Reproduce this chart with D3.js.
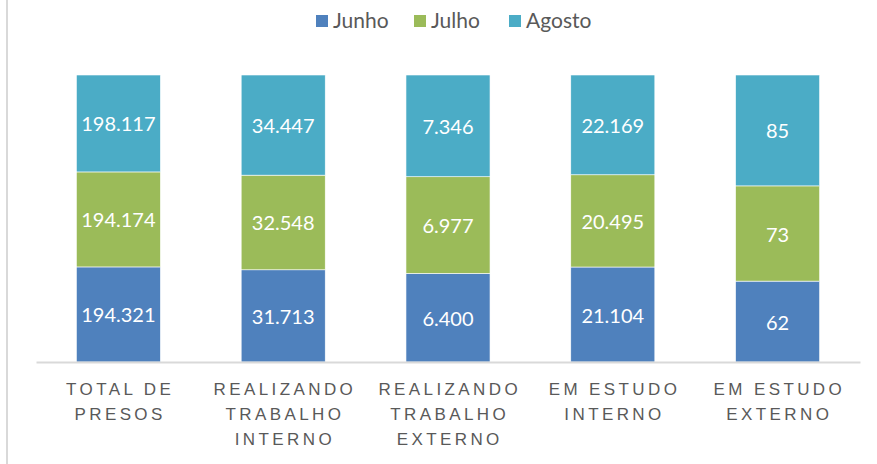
<!DOCTYPE html>
<html>
<head>
<meta charset="utf-8">
<script src="https://cdn.jsdelivr.net/npm/d3@7"></script>
<style>
  body { margin: 0; background: #fff; }
  svg { display: block; font-family: Lato, "Open Sans", sans-serif; }
</style>
</head>
<body>
<svg id="chart" width="877" height="464"></svg>
<script>
'use strict';
// Chart data
const categories = ['TOTAL DE\nPRESOS', 'REALIZANDO\nTRABALHO\nINTERNO', 'REALIZANDO\nTRABALHO\nEXTERNO', 'EM ESTUDO\nINTERNO', 'EM ESTUDO\nEXTERNO'];
const seriesNames = ['Junho', 'Julho', 'Agosto'];
const junho = [194321, 31713, 6400, 21104, 62];
const julho = [194174, 32548, 6977, 20495, 73];
const agosto = [198117, 34447, 7346, 22169, 85];
const colors = ['#4F81BD', '#9BBB59', '#4BACC6'];

const rows = categories.map((c, i) => ({
    cat: c,
    Junho: junho[i],
    Julho: julho[i],
    Agosto: agosto[i]
}));

const svg = d3.select('#chart');
const plot = { left: 36, right: 860, top: 75, bottom: 362 };

const x = d3.scaleBand()
    .domain(categories)
    .range([plot.left, plot.right])
    .paddingInner(0.49)
    .paddingOuter(0.245);

const y = d3.scaleLinear().domain([0, 1]).range([plot.bottom, plot.top]);
const color = d3.scaleOrdinal().domain(seriesNames).range(colors);

const stack = d3.stack().keys(seriesNames).offset(d3.stackOffsetExpand);
const stacked = stack(rows);

const fmt = d3.formatLocale({ decimal: ',', thousands: '.', grouping: [3], currency: ['R$', ''] }).format(',d');

// left border of the chart frame
svg.append('line')
    .attr('x1', 7).attr('x2', 7)
    .attr('y1', 0).attr('y2', 464)
    .attr('stroke', '#d9d9d9')
    .attr('stroke-width', 2);

const groups = svg.append('g').selectAll('g')
    .data(stacked)
    .enter()
    .append('g')
    .attr('fill', d => color(d.key));

groups.selectAll('rect')
    .data(d => d)
    .enter()
    .append('rect')
    .attr('x', d => x(d.data.cat))
    .attr('y', d => y(d[1]))
    .attr('width', x.bandwidth())
    .attr('height', d => y(d[0]) - y(d[1]))
    .attr('stroke', '#ffffff')
    .attr('stroke-width', 0.6);

// value labels
groups.selectAll('text')
    .data(d => d.map(v => ({ v, key: d.key })))
    .enter()
    .append('text')
    .attr('x', d => x(d.v.data.cat) + x.bandwidth() / 2)
    .attr('y', d => (y(d.v[0]) + y(d.v[1])) / 2 + 1)
    .attr('dy', '0.35em')
    .attr('text-anchor', 'middle')
    .attr('fill', '#ffffff')
    .style('font-size', '20px')
    .text(d => fmt(d.v.data[d.key]));

// x axis
const xAxis = svg.append('g')
    .attr('transform', 'translate(0,' + plot.bottom + ')')
    .call(d3.axisBottom(x).tickSize(0).tickSizeOuter(0).tickFormat(''));

xAxis.select('.domain')
    .attr('stroke', '#d9d9d9')
    .attr('stroke-width', 2);

xAxis.selectAll('.tick text').remove();
xAxis.selectAll('.tick')
    .append('text')
    .attr('fill', '#595959')
    .attr('text-anchor', 'middle')
    .style('font-size', '17px')
    .style('font-weight', 300)
    .style('letter-spacing', '3.4px')
    .selectAll('tspan')
    .data(d => d.split('\n'))
    .enter()
    .append('tspan')
    .attr('x', 1.7)
    .attr('y', (d, i) => 33 + i * 25)
    .text(d => d);

// legend
const legendX = [316, 414, 509];
const legend = svg.append('g')
    .selectAll('g')
    .data(seriesNames)
    .enter()
    .append('g')
    .attr('transform', (d, i) => 'translate(' + legendX[i] + ',15)');

legend.append('rect')
    .attr('width', 12)
    .attr('height', 12)
    .attr('fill', d => color(d));

legend.append('text')
    .attr('x', 17)
    .attr('y', 6)
    .attr('dy', '0.35em')
    .attr('fill', '#595959')
    .style('font-size', '21px')
    .text(d => d);
</script>
</body>
</html>
